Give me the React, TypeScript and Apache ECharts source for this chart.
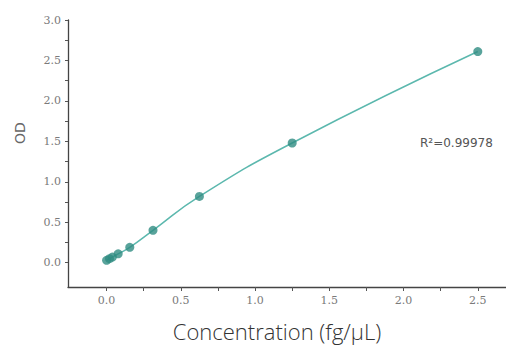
import React, { useEffect, useRef } from "react";
import * as echarts from "echarts";

const concentrations = [0, 0.0195, 0.039, 0.078, 0.156, 0.3125, 0.625, 1.25, 2.5];
const odValues = [0.03, 0.05, 0.07, 0.11, 0.19, 0.4, 0.82, 1.48, 2.61];
const xLabelValues = [0, 0.5, 1.0, 1.5, 2.0, 2.5];
const xTickValues = [0, 0.25, 0.5, 0.75, 1.0, 1.25, 1.5, 1.75, 2.0, 2.25, 2.5];
const yLabelValues = [0, 0.5, 1.0, 1.5, 2.0, 2.5, 3.0];
const yTickValues = [0, 0.25, 0.5, 0.75, 1.0, 1.25, 1.5, 1.75, 2.0, 2.25, 2.5, 2.75, 3.0];
const r2Text = "R\u00b2=0.99978";
const xName = "Concentration (fg/\u03bcL)";
const yName = "OD";

export default function App() {
  const ref = useRef<HTMLDivElement>(null);
  useEffect(() => {
    const chart = echarts.init(ref.current!, null, { renderer: "svg" });
    const pts = concentrations.map((c, i) => [c, odValues[i]]);
    const labelStyle = {
      color: "#7a7a7a",
      fontFamily: "DejaVu Serif",
      fontSize: 11,
      formatter: (v: number) => v.toFixed(1),
    };
    chart.setOption({
      animation: false,
      backgroundColor: "#ffffff",
      grid: { left: 68, right: 0, top: 20, bottom: 60, containLabel: false },
      xAxis: {
        type: "value",
        min: -0.26,
        max: 2.69,
        splitLine: { show: false },
        axisLine: { show: true, onZero: false, lineStyle: { color: "#444", width: 1.3 } },
        axisTick: { show: true, inside: false, length: 4, customValues: xTickValues, lineStyle: { color: "#555" } },
        axisLabel: { ...labelStyle, margin: 8, customValues: xLabelValues },
      },
      yAxis: {
        type: "value",
        min: -0.3,
        max: 3.0,
        splitLine: { show: false },
        axisLine: { show: true, onZero: false, lineStyle: { color: "#444", width: 1.3 } },
        axisTick: { show: true, inside: false, length: 3, customValues: yTickValues, lineStyle: { color: "#555" } },
        axisLabel: { ...labelStyle, margin: 7, customValues: yLabelValues },
      },
      series: [
        {
          type: "line",
          data: pts,
          smooth: 0.5,
          showSymbol: false,
          lineStyle: { color: "#5cb8ae", width: 1.5 },
          z: 1,
        },
        {
          type: "scatter",
          data: pts,
          symbolSize: 9,
          itemStyle: { color: "#2f8c82" },
          z: 2,
        },
      ],
      graphic: [
        {
          type: "text",
          x: 20,
          y: 133,
          rotation: Math.PI / 2,
          style: {
            text: yName,
            fill: "#666",
            font: "14px 'DejaVu Sans'",
            align: "center",
            verticalAlign: "middle",
          },
        },
        {
          type: "text",
          x: 277,
          y: 331,
          style: {
            text: xName,
            fill: "#333",
            font: "300 22px 'Open Sans'",
            align: "center",
            verticalAlign: "middle",
          },
        },
        {
          type: "text",
          x: 420,
          y: 143,
          style: {
            text: r2Text,
            fill: "#555",
            font: "12px 'DejaVu Sans'",
            align: "left",
            verticalAlign: "middle",
          },
        },
      ],
    });
    return () => chart.dispose();
  }, []);
  return <div ref={ref} style={{ width: 506, height: 347, position: "absolute", left: 0, top: 0 }} />;
}
